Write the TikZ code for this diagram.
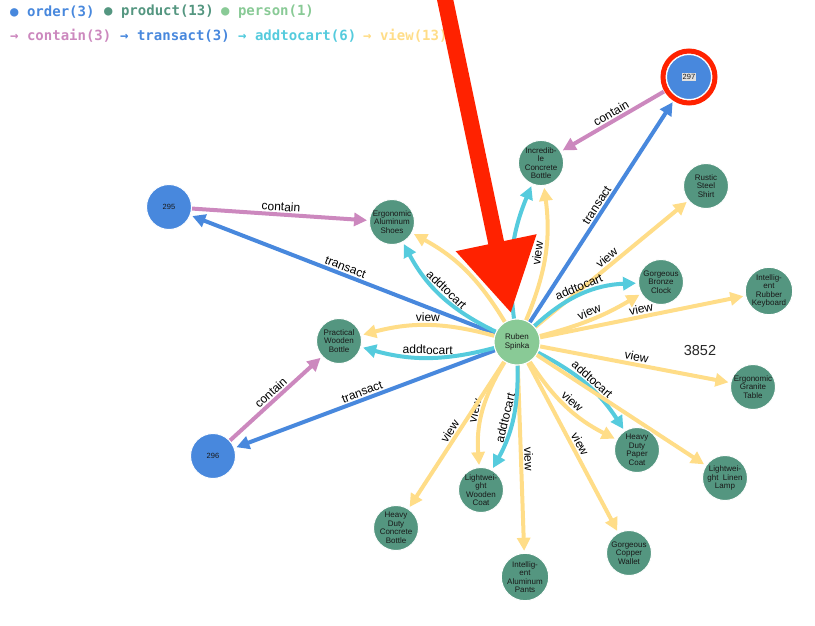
\documentclass[tikz,border=0pt]{standalone}
\usepackage{fontspec}
\setmainfont{Liberation Sans}
\newfontfamily\legendfont{DejaVu Sans Mono}
\usetikzlibrary{arrows.meta,backgrounds}
\definecolor{orderblue}{RGB}{72,136,221}
\definecolor{productgreen}{RGB}{84,150,128}
\definecolor{personlime}{RGB}{137,202,150}
\definecolor{containpink}{RGB}{204,136,190}
\definecolor{cartcyan}{RGB}{85,203,221}
\definecolor{viewyellow}{RGB}{255,221,136}
\definecolor{alertred}{RGB}{255,34,0}
\setlength{\fboxsep}{1pt}

\begin{document}
\begin{tikzpicture}[x=1pt,y=-1pt,>={Triangle[length=13pt,width=13pt]},
  ordernode/.style={circle,fill=orderblue,draw=white,line width=1pt,minimum size=45pt,inner sep=0pt,text=black!90,font=\fontsize{7.5}{8}\selectfont},
  productnode/.style={circle,fill=productgreen,draw=white,line width=1pt,minimum size=45pt,inner sep=0pt,align=center,text=black!90,font=\fontsize{8}{8.5}\selectfont},
  personnode/.style={productnode,fill=personlime,minimum size=46pt},
  edgeline/.style={line width=4pt,->,shorten >=2pt},
  containlink/.style={edgeline,containpink},
  transactlink/.style={edgeline,orderblue},
  cartlink/.style={edgeline,cartcyan},
  viewlink/.style={edgeline,viewyellow},
  lbl/.style={midway,sloped,above,inner sep=1.5pt,text=black,font=\fontsize{12}{12}\selectfont},
  legenditem/.style={anchor=west,inner sep=0pt,font=\legendfont\bfseries\fontsize{14}{14}\selectfont}]
\useasboundingbox (0,0) rectangle (815,625);

\node[legenditem,text=orderblue] (lgorder) at (10,12) {● order(3)};
\node[legenditem,text=productgreen] (lgproduct) at (104,12) {● product(13)};
\node[legenditem,text=personlime] (lgperson) at (221,12) {● person(1)};
\node[legenditem,text=containpink] (lgcontain) at (10,36) {→ contain(3)};
\node[legenditem,text=orderblue] (lgtransact) at (120,36) {→ transact(3)};
\node[legenditem,text=cartcyan] (lgcart) at (238,36) {→ addtocart(6)};
\node[legenditem,text=viewyellow] (lgview) at (363,36) {→ view(13)};

\node[personnode] (ruben) at (517,342) {Ruben\\Spinka};
\node[ordernode] (o297) at (689,77) {\colorbox{black!12}{297}};
\node[ordernode] (o295) at (169,207) {295};
\node[ordernode] (o296) at (213,456) {296};
\node[productnode] (incrbottle) at (541,163) {Incredib-\\le\\Concrete\\Bottle};
\node[productnode] (rusticshirt) at (706,186) {Rustic\\Steel\\Shirt};
\node[productnode] (ergoshoes) at (392,222) {Ergonomic\\Aluminum\\Shoes};
\node[productnode] (bronzeclock) at (661,282) {Gorgeous\\Bronze\\Clock};
\node[productnode] (rubberkeyboard) at (769,291) {Intellig-\\ent\\Rubber\\Keyboard};
\node[productnode] (pracbottle) at (339,341) {Practical\\Wooden\\Bottle};
\node[productnode] (granitetable) at (753,387) {Ergonomic\\Granite\\Table};
\node[productnode] (papercoat) at (637,450) {Heavy\\Duty\\Paper\\Coat};
\node[productnode] (linenlamp) at (725,478) {Lightwei-\\ght~~Linen\\Lamp};
\node[productnode] (woodencoat) at (481,490) {Lightwei-\\ght\\Wooden\\Coat};
\node[productnode] (concretebottle) at (396,528) {Heavy\\Duty\\Concrete\\Bottle};
\node[productnode] (copperwallet) at (629,553) {Gorgeous\\Copper\\Wallet};
\node[productnode] (aluminumpants) at (525,577) {Intellig-\\ent\\Aluminum\\Pants};
\node[font=\fontsize{14.5}{15}\selectfont,text=black!85] (count) at (700,351) {3852};

\draw[alertred,line width=5pt] (o297.center) circle (26pt);

\begin{pgfonlayer}{background}
\draw[containlink,shorten <=6pt] (o297) -- node[lbl]{contain} (incrbottle);
\draw[transactlink,shorten >=7pt] (ruben) -- node[lbl]{transact} (o297);
\draw[containlink] (o295) -- node[lbl]{contain} (ergoshoes);
\draw[transactlink] (ruben) -- node[lbl]{transact} (o295);
\draw[containlink] (o296) -- node[lbl]{contain} (pracbottle);
\draw[transactlink] (ruben) -- node[lbl]{transact} (o296);
\draw[cartlink] (ruben) to[bend left=18] node[lbl]{addtocart} (ergoshoes);
\draw[viewlink] (ruben) to[bend right=15] (ergoshoes);
\draw[viewlink] (ruben) to[bend right=15] node[lbl]{view} (pracbottle);
\draw[cartlink] (ruben) to[bend left=15] node[lbl]{addtocart} (pracbottle);
\draw[cartlink] (ruben) to[bend left=15] (incrbottle);
\draw[viewlink] (ruben) to[bend right=15] node[lbl]{view} (incrbottle);
\draw[viewlink] (ruben) -- node[lbl]{view} (rusticshirt);
\draw[cartlink] (ruben) to[bend left=20] node[lbl]{addtocart} (bronzeclock);
\draw[viewlink] (ruben) to[bend right=8] node[lbl]{view} (bronzeclock);
\draw[viewlink] (ruben) -- node[lbl]{view} (rubberkeyboard);
\draw[viewlink] (ruben) -- node[lbl]{view} (granitetable);
\draw[cartlink] (ruben) to[bend left=15] node[lbl]{addtocart} (papercoat);
\draw[viewlink] (ruben) to[bend right=15] node[lbl]{view} (papercoat);
\draw[viewlink] (ruben) -- (linenlamp);
\draw[viewlink] (ruben) -- node[lbl]{view} (copperwallet);
\draw[viewlink] (ruben) -- node[lbl]{view} (aluminumpants);
\draw[cartlink] (ruben) to[bend left=15] node[lbl]{addtocart} (woodencoat);
\draw[viewlink] (ruben) to[bend right=18] node[lbl]{view} (woodencoat);
\draw[viewlink] (ruben) -- node[lbl]{view} (concretebottle);
\end{pgfonlayer}

\coordinate (alerttail) at (441,-20);
\draw[alertred,line width=16pt,-{Triangle[length=72pt,width=78pt]},shorten >=6pt] (alerttail) -- (ruben);
\end{tikzpicture}
\end{document}
